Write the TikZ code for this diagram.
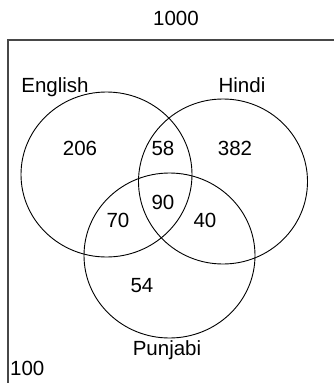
\documentclass[tikz,border=0pt]{standalone}
\usepackage{fontspec}
\setmainfont{Liberation Sans}
\usetikzlibrary{positioning}

\begin{document}
\begin{tikzpicture}[
    x=1pt,y=-1pt,
    set/.style={draw=black,line width=0.9pt},
    frame/.style={draw=black!72,line width=1.4pt},
    num/.style={anchor=base,inner sep=0pt,font=\fontsize{20.5}{24}\selectfont},
]
\useasboundingbox (0,0) rectangle (334,383);
% Universal set: only the top and left edges are shown
\draw[frame] (334,40) -- (8,40) -- (8,383);
\node[num] (total) at (176,25) {1000};
\node[num,anchor=base west] (outside) at (10,375) {100};
% The three sets
\draw[set] (106.5,174.5) ellipse [x radius=85.5,y radius=82.5];
\draw[set] (223,181.5) ellipse [x radius=84.5,y radius=82.5];
\draw[set] (169.5,255.5) ellipse [x radius=85.5,y radius=82.5];
\node[num] (eng) at (55,92) {English};
\node[num] (hin) at (242,92) {Hindi};
\node[num] (pun) at (167,355) {Punjabi};
% Region counts
\node[num] (onlyE) at (80,155) {206};
\node[num] (EH)    at (163,155) {58};
\node[num] (onlyH) at (235,155) {382};
\node[num] (EHP)   at (163,209) {90};
\node[num] (EP)    at (118,227) {70};
\node[num] (HP)    at (205,227) {40};
\node[num] (onlyP) at (142,292) {54};
\end{tikzpicture}
\end{document}
